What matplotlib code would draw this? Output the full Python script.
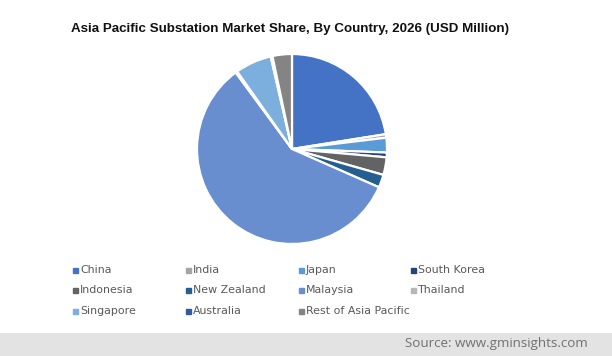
import matplotlib

matplotlib.use("Agg")
import matplotlib.pyplot as plt
from matplotlib.lines import Line2D
from matplotlib.patches import Rectangle

# share of 2026 market (%)
countries = ["China", "India", "Japan", "South Korea", "Indonesia", "New Zealand",
             "Malaysia", "Thailand", "Singapore", "Australia", "Rest of Asia Pacific"]
shares = [22.5, 0.6, 2.5, 0.8, 3.0, 2.2, 58.3, 0.3, 6.2, 0.3, 3.3]
colors = ["#4472C4", "#A5A5A5", "#5B9BD5", "#264478", "#636363", "#255E91",
          "#698ED0", "#B7B7B7", "#7CAFDD", "#335AA1", "#848484"]

W, H = 612, 356
fig = plt.figure(figsize=(W / 100, H / 100), dpi=100)

# pie, centred a bit left of the middle (px: centre 292,149 r 95)
cx, cy, r = 292, 149, 95
ax = fig.add_axes([(cx - r) / W, 1 - (cy + r) / H, 2 * r / W, 2 * r / H])
ax.pie(shares, colors=colors, startangle=90, counterclock=False, radius=1.0,
       wedgeprops=dict(edgecolor="white", linewidth=1.6))
ax.set_xlim(-1.0, 1.0)
ax.set_ylim(-1.0, 1.0)
ax.set_aspect("equal")

fig.text(290 / W, 1 - 29 / H,
         "Asia Pacific Substation Market Share, By Country, 2026 (USD Million)",
         ha="center", va="center", fontsize=9.6, fontweight="bold",
         family="Liberation Sans", color="#111111")

# legend, row-major, 4 fixed columns
col_x = [75, 188, 301, 413]
row_y = [270, 290, 311]
for i, (name, c) in enumerate(zip(countries, colors)):
    x = col_x[i % 4]
    y = row_y[i // 4]
    fig.add_artist(Line2D([x / W], [1 - y / H], marker="s", ms=3.6, ls="none",
                          color=c, transform=fig.transFigure))
    fig.text((x + 5) / W, 1 - y / H, name, ha="left", va="center",
             fontsize=7.9, color="#595959", family="DejaVu Sans")

# grey source band
fig.patches.append(Rectangle((0, 0), 1, 23 / H, transform=fig.transFigure,
                             facecolor="#E3E3E3", edgecolor="none", zorder=0))
fig.text(588 / W, 1 - 343 / H, "Source: www.gminsights.com", ha="right", va="center",
         fontsize=9.6, color="#707070", family="Open Sans")

fig.savefig("out.png", dpi=100)
